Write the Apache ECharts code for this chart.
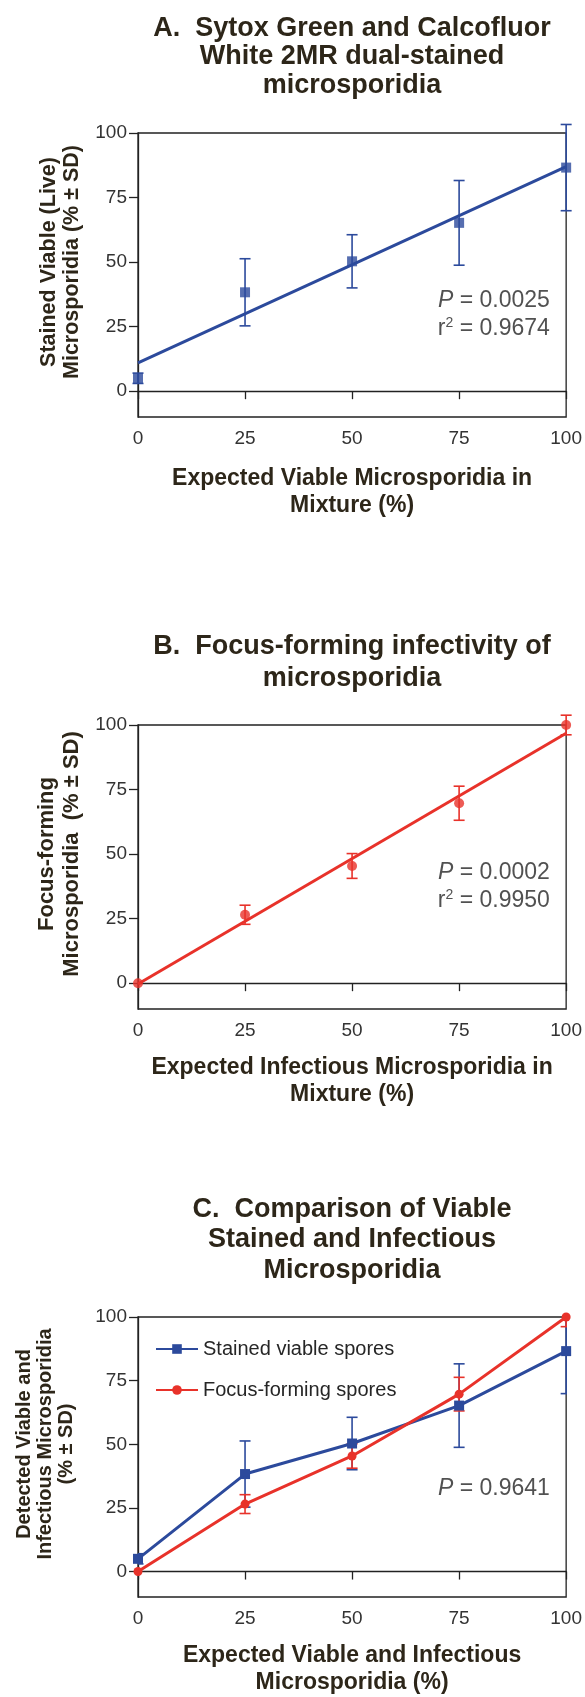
<!DOCTYPE html>
<html>
<head>
<meta charset="utf-8">
<script src="https://cdn.jsdelivr.net/npm/echarts@6/dist/echarts.min.js"></script>
<style>
html,body{margin:0;padding:0;background:#fff;}
#c{width:585px;height:1697px;}
</style>
</head>
<body>
<div id="c"></div>
<script>
// ---- data ----
const xValues = [0, 25, 50, 75, 100];
const xTicks = [0, 25, 50, 75, 100];
const yTicks = [0, 25, 50, 75, 100];
const stainedMean = [5, 38.3, 50.3, 65.2, 86.6];
const stainedSD = [2, 13, 10.3, 16.4, 16.7];
const focusMean = [0, 26.5, 45.4, 69.7, 100];
const focusSD = [0, 3.7, 4.8, 6.6, 3.8];
const fitA = [[0, 11], [100, 87]];
const fitB = [[0, -0.3], [100, 96.8]];
const titles = [
  'A.  Sytox Green and Calcofluor\nWhite 2MR dual-stained\nmicrosporidia',
  'B.  Focus-forming infectivity of\nmicrosporidia',
  'C.  Comparison of Viable\nStained and Infectious\nMicrosporidia'
];
const xNames = [
  'Expected Viable Microsporidia in\nMixture (%)',
  'Expected Infectious Microsporidia in\nMixture (%)',
  'Expected Viable and Infectious\nMicrosporidia (%)'
];
const yNames = [
  'Stained Viable (Live)\nMicrosporidia (% \u00b1 SD)',
  'Focus-forming\nMicrosporidia  (% \u00b1 SD)',
  'Detected Viable and\nInfectious Microsporidia\n(% \u00b1 SD)'
];
const statsA = ['{i|P} = 0.0025', 'r{sup|2} = 0.9674'];
const statsB = ['{i|P} = 0.0002', 'r{sup|2} = 0.9950'];
const statsC = ['{i|P} = 0.9641'];
const legendNames = ['Stained viable spores', 'Focus-forming spores'];

const BLUE = '#2c4a9c';
const RED = '#e8322a';
const INK = '#2d2619';
const FONT = '"Liberation Sans", Arial, Helvetica, sans-serif';

const pts = (m) => xValues.map((x, i) => [x, m[i]]);
const errs = (m, s) => xValues.map((x, i) => [x, m[i] - s[i], m[i] + s[i]]);

function errorSeries(idx, data, color, clip) {
  return {
    type: 'custom', xAxisIndex: idx, yAxisIndex: idx, clip: clip, z: 3,
    silent: true,
    data: data,
    renderItem: function (params, api) {
      const x = api.value(0), lo = api.value(1), hi = api.value(2);
      if (hi - lo < 0.5) return null;
      const t = api.coord([x, hi]);
      const b = api.coord([x, lo]);
      const w = 5.5;
      const st = { stroke: color, lineWidth: 1.6 };
      return {
        type: 'group',
        children: [
          { type: 'line', shape: { x1: t[0], y1: t[1], x2: b[0], y2: b[1] }, style: st },
          { type: 'line', shape: { x1: t[0] - w, y1: t[1], x2: t[0] + w, y2: t[1] }, style: st },
          { type: 'line', shape: { x1: b[0] - w, y1: b[1], x2: b[0] + w, y2: b[1] }, style: st }
        ]
      };
    }
  };
}

function statSeries(idx, pos, lines) {
  return {
    type: 'scatter', xAxisIndex: idx, yAxisIndex: idx, symbolSize: 0.01, silent: true,
    itemStyle: { color: 'transparent' }, z: 5,
    data: [pos],
    label: {
      show: true, position: 'left', distance: 0, align: 'right',
      formatter: lines.join('\n'),
      fontFamily: FONT, fontSize: 23, color: '#262626', lineHeight: 28,
      rich: {
        i: { fontStyle: 'italic', fontSize: 23, fontFamily: FONT, color: '#262626' },
        sup: { fontSize: 14, fontFamily: FONT, color: '#262626', padding: [0, 0, 12, 0] }
      }
    }
  };
}

const tops = [133, 725, 1317];
const height = 284;
const grids = tops.map(t => ({
  left: 138, width: 429, top: t, height: height,
  show: true, borderColor: '#222', borderWidth: 1.3, backgroundColor: 'transparent'
}));

const titleTops = [14, 631, 1194];
const titleLH = [28.5, 32, 30.5];
const xNameGap = [48, 45, 45];
const yNameGap = [54, 53.5, 61.5];
const yNameSize = [21.5, 22, 20];
const yNameLH = [23, 25, 21];

const xAxes = [0, 1, 2].map(i => ({
  type: 'value', gridIndex: i, min: 0, max: 100, interval: 25,
  splitLine: { show: false },
  axisLine: { show: true, lineStyle: { color: '#222', width: 1.3 } },
  axisTick: { show: true, length: 8, lineStyle: { color: '#222', width: 1.3 }, customValues: xTicks },
  axisLabel: { show: true, margin: 12, fontFamily: FONT, fontSize: 19, color: '#333', customValues: xTicks },
  name: xNames[i], nameLocation: 'middle', nameGap: xNameGap[i],
  nameTextStyle: { fontFamily: FONT, fontSize: 23, fontWeight: 'bold', color: INK, lineHeight: 27 }
}));

const yAxes = [0, 1, 2].map(i => ({
  type: 'value', gridIndex: i, min: -10, max: 100,
  splitLine: { show: false },
  axisLine: { show: true, lineStyle: { color: '#222', width: 1.3 } },
  axisTick: { show: true, length: 9, lineStyle: { color: '#222', width: 1.3 }, customValues: yTicks },
  axisLabel: { show: true, margin: 11, fontFamily: FONT, fontSize: 19, color: '#333', customValues: yTicks },
  name: yNames[i], nameLocation: 'middle', nameGap: yNameGap[i],
  nameTextStyle: { fontFamily: FONT, fontSize: yNameSize[i], fontWeight: 'bold', color: INK,
    lineHeight: yNameLH[i], padding: [0, 0, 0, 26] }
}));

const option = {
  animation: false,
  backgroundColor: '#fff',
  title: titles.map((t, i) => ({
    text: t, left: 352, top: titleTops[i], textAlign: 'center', padding: 0,
    textStyle: { fontFamily: FONT, fontSize: 27, fontWeight: 'bold', color: INK, lineHeight: titleLH[i] }
  })),
  legend: {
    data: legendNames, orient: 'vertical', left: 150, top: 1334,
    itemWidth: 42, itemHeight: 12, itemGap: 21,
    textStyle: { fontFamily: FONT, fontSize: 20, color: '#262626' }
  },
  grid: grids,
  xAxis: xAxes,
  yAxis: yAxes,
  series: [
    // Panel A
    errorSeries(0, errs(stainedMean, stainedSD), BLUE, false),
    { type: 'line', name: 'fitA', xAxisIndex: 0, yAxisIndex: 0, data: fitA, showSymbol: false,
      lineStyle: { color: BLUE, width: 3 }, z: 2, silent: true },
    { type: 'scatter', name: 'ptsA', xAxisIndex: 0, yAxisIndex: 0, data: pts(stainedMean),
      symbol: 'rect', symbolSize: 10, itemStyle: { color: BLUE }, z: 4 },
    statSeries(0, [96.2, 29.6], statsA),
    // Panel B
    errorSeries(1, errs(focusMean, focusSD), RED, false),
    { type: 'line', name: 'fitB', xAxisIndex: 1, yAxisIndex: 1, data: fitB, showSymbol: false,
      lineStyle: { color: RED, width: 3 }, z: 2, silent: true },
    { type: 'scatter', name: 'ptsB', xAxisIndex: 1, yAxisIndex: 1, data: pts(focusMean),
      symbol: 'circle', symbolSize: 10, itemStyle: { color: RED }, z: 4 },
    statSeries(1, [96.2, 37.3], statsB),
    // Panel C
    errorSeries(2, errs(stainedMean, stainedSD), BLUE, true),
    errorSeries(2, errs(focusMean, focusSD), RED, true),
    { type: 'line', name: legendNames[0], xAxisIndex: 2, yAxisIndex: 2, data: pts(stainedMean),
      symbol: 'rect', symbolSize: 10, lineStyle: { color: BLUE, width: 3 }, itemStyle: { color: BLUE }, z: 4 },
    { type: 'line', name: legendNames[1], xAxisIndex: 2, yAxisIndex: 2, data: pts(focusMean),
      symbol: 'circle', symbolSize: 9, lineStyle: { color: RED, width: 3 }, itemStyle: { color: RED }, z: 4 },
    statSeries(2, [96.2, 32.5], statsC)
  ]
};

const chart = echarts.init(document.getElementById('c'), null, { renderer: 'canvas' });
chart.setOption(option);
</script>
</body>
</html>
